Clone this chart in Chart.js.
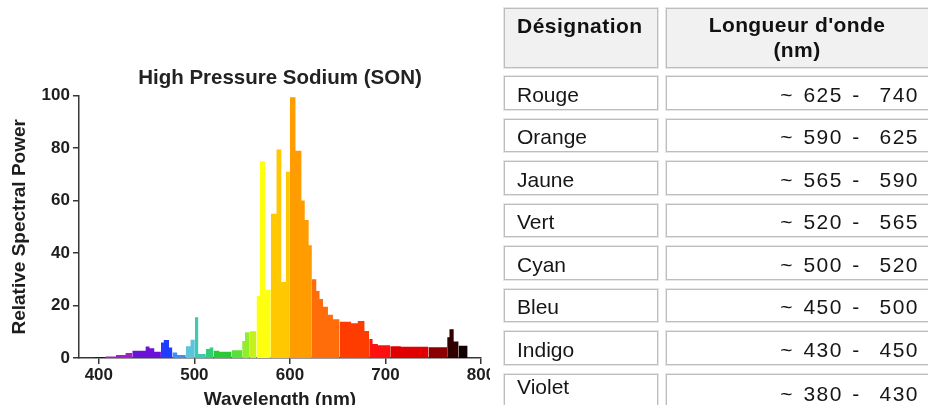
<!DOCTYPE html>
<html>
<head>
<meta charset="utf-8">
<script src="https://cdn.jsdelivr.net/npm/chart.js@4.4.0/dist/chart.umd.min.js"></script>
<style>
  html, body { margin: 0; padding: 0; background: #fff; }
  body { width: 928px; height: 405px; overflow: hidden; position: relative; font-family: "Liberation Sans", Arial, sans-serif; }
  #chartClip { position: absolute; left: 0; top: 0; width: 490px; height: 405px; overflow: hidden; }
  #chartBox { position: absolute; left: 0; top: 0; width: 500px; height: 420px; }
  #table { position: absolute; left: 0; top: 0; width: 928px; height: 405px; }
  .cell { position: absolute; box-sizing: border-box; border: 1px solid #bdbdbd; box-shadow: 0 0 0 1px #e6e6e6; background: #fff;
          display: flex; align-items: center; font-size: 21px; line-height: 24px; color: #161616; white-space: pre; }
  .head { background: #f1f1f1; align-items: flex-start; font-weight: bold; color: #111; }
  .lab { padding: 4px 0 0 12px; }
  .num { justify-content: flex-end; padding: 4px 10px 0 0; letter-spacing: 1.5px; word-spacing: 2px; }
</style>
</head>
<body>
<div id="chartClip"><div id="chartBox"><canvas id="myChart"></canvas></div></div>
<div id="table"></div>
<script>
// spectrum (step levels: each value holds until the next wavelength)
const wavelengths = [395, 400, 407, 418, 428, 435, 449, 453, 458, 465,
                     468, 473.5, 477, 482, 491, 496, 500.5, 504, 512, 516,
                     520, 526, 539, 550, 553, 558, 565, 568.7, 574, 580,
                     586, 591, 595.8, 600, 605.8, 612, 615.5, 619.6, 623, 627.6,
                     631, 634.6, 639.8, 645, 652, 664, 671, 678, 683, 686.5,
                     692, 705, 716, 745, 764.6, 767, 771.4, 776.6, 786];
const power = [0.3, 0.4, 0.6, 1.1, 1.9, 2.8, 4.4, 3.7, 2.4, 5.9,
               6.9, 4.0, 2.1, 1.1, 4.5, 7.0, 15.5, 1.5, 3.4, 4.0,
               2.8, 2.4, 3.0, 6.5, 9.8, 10.2, 23.6, 75, 26, 55,
               79.5, 29, 71, 99.4, 79, 60, 52.6, 43, 30, 25.5,
               22.5, 19.5, 16.5, 14.8, 13.8, 13.2, 14.1, 10.3, 7.2, 5.3,
               4.9, 4.5, 4.3, 4.1, 7.9, 11, 6.3, 4.7, 0];
const xTicks = [400, 500, 600, 700, 800];
const yTicks = [0, 20, 40, 60, 80, 100];

// table text
const designations = ['Rouge', 'Orange', 'Jaune', 'Vert', 'Cyan', 'Bleu', 'Indigo', 'Violet'];
const ranges = ['~ 625 -  740', '~ 590 -  625', '~ 565 -  590', '~ 520 -  565',
                '~ 500 -  520', '~ 450 -  500', '~ 430 -  450', '~ 380 -  430'];

// colour of the fill by wavelength band
const bandStart = [380, 405, 433, 463, 477, 489, 497, 507, 518, 530, 545, 555,
                   565, 579, 596, 621, 648, 683, 705, 720, 735, 750, 764, 776];
const bandColor = ['#1a1a1a', '#a41ccc', '#6a12d6', '#1f3cff', '#3b8cff', '#5cc4dc', '#3fc8b2', '#2fcf78',
                   '#2dc83a', '#58e03a', '#92ee2c', '#c4f21a', '#ffff10', '#ffc800', '#ff9c00', '#ff6c0a',
                   '#ff3c00', '#ff1010', '#e00000', '#b80000', '#8c0000', '#5a0000', '#300000', '#120000'];

function colorAt(w) {
    let c = bandColor[0];
    for (let i = 0; i < bandStart.length; i++) {
        if (w >= bandStart[i]) c = bandColor[i];
    }
    return c;
}

const FONT = '"Liberation Sans", Arial, sans-serif';
Chart.defaults.font.family = FONT;
Chart.defaults.color = '#1e1e1e';

const ctx = document.getElementById('myChart').getContext('2d');
const axisColor = '#363636';

new Chart(ctx, {
    type: 'line',
    data: {
        datasets: [{
            data: wavelengths.map((w, i) => ({x: w, y: power[i]})),
            stepped: true,
            fill: 'origin',
            borderWidth: 0,
            borderColor: 'transparent',
            backgroundColor: '#000',
            pointRadius: 0,
            segment: {
                backgroundColor: c => colorAt(wavelengths[c.p0DataIndex])
            }
        }]
    },
    options: {
        responsive: true,
        maintainAspectRatio: false,
        animation: false,
        layout: { padding: { left: 4, right: 19, top: 56, bottom: 8.6 } },
        plugins: {
            legend: { display: false },
            tooltip: { enabled: false },
            title: {
                display: true,
                text: 'High Pressure Sodium (SON)',
                fullSize: false,
                color: '#222',
                font: { size: 20.5, weight: 'bold' },
                padding: { top: 10, bottom: 5 }
            }
        },
        scales: {
            x: {
                type: 'linear',
                min: 379.2,
                max: 800,
                afterBuildTicks: s => { s.ticks = xTicks.map(v => ({value: v})); },
                grid: { drawOnChartArea: false, tickLength: 6, color: axisColor, lineWidth: 1.5 },
                border: { color: axisColor, width: 1.5 },
                ticks: { padding: 1, color: '#1e1e1e', font: { size: 17, weight: 'bold' } },
                title: {
                    display: true,
                    text: 'Wavelength (nm)',
                    color: '#1e1e1e',
                    font: { size: 19, weight: 'bold' },
                    padding: { top: 2.2, bottom: 0 }
                }
            },
            y: {
                min: 0,
                max: 100,
                afterBuildTicks: s => { s.ticks = yTicks.map(v => ({value: v})); },
                grid: { drawOnChartArea: false, tickLength: 6, color: axisColor, lineWidth: 1.5 },
                border: { color: axisColor, width: 1.5 },
                ticks: { padding: 3, color: '#1e1e1e', font: { size: 17, weight: 'bold' } },
                title: {
                    display: true,
                    text: 'Relative Spectral Power',
                    color: '#1e1e1e',
                    font: { size: 19, weight: 'bold' },
                    padding: { top: 4.6, bottom: 7.2 }
                }
            }
        }
    }
});

// table on the right
const tbl = document.getElementById('table');
function addCell(text, cls, left, top, width, height) {
    const d = document.createElement('div');
    d.className = 'cell ' + cls;
    d.textContent = text;
    d.style.left = left + 'px';
    d.style.top = top + 'px';
    d.style.width = width + 'px';
    d.style.height = height + 'px';
    tbl.appendChild(d);
    return d;
}
const h1 = addCell('Désignation', 'head lab', 504, 8, 154, 60);
h1.style.paddingTop = '5px';
h1.style.letterSpacing = '0.5px';
const h2 = addCell("Longueur d'onde\n(nm)", 'head', 666, 8, 270, 60);
h2.style.justifyContent = 'center';
h2.style.textAlign = 'center';
h2.style.lineHeight = '25px';
h2.style.paddingTop = '3px';
h2.style.paddingRight = '8px';
h2.style.letterSpacing = '0.4px';

designations.forEach((name, i) => {
    const top = 76 + i * 42.5;
    const last = i === designations.length - 1;
    const a = addCell(name, 'lab', 504, top, 154, last ? 48 : 33.5);
    const b = addCell(ranges[i], 'num', 666, top, 264, last ? 48 : 33.5);
    if (last) {
        a.style.alignItems = 'flex-start';
        a.style.paddingTop = '0px';
        b.style.alignItems = 'flex-start';
        b.style.paddingTop = '7px';
    }
});
</script>
</body>
</html>
